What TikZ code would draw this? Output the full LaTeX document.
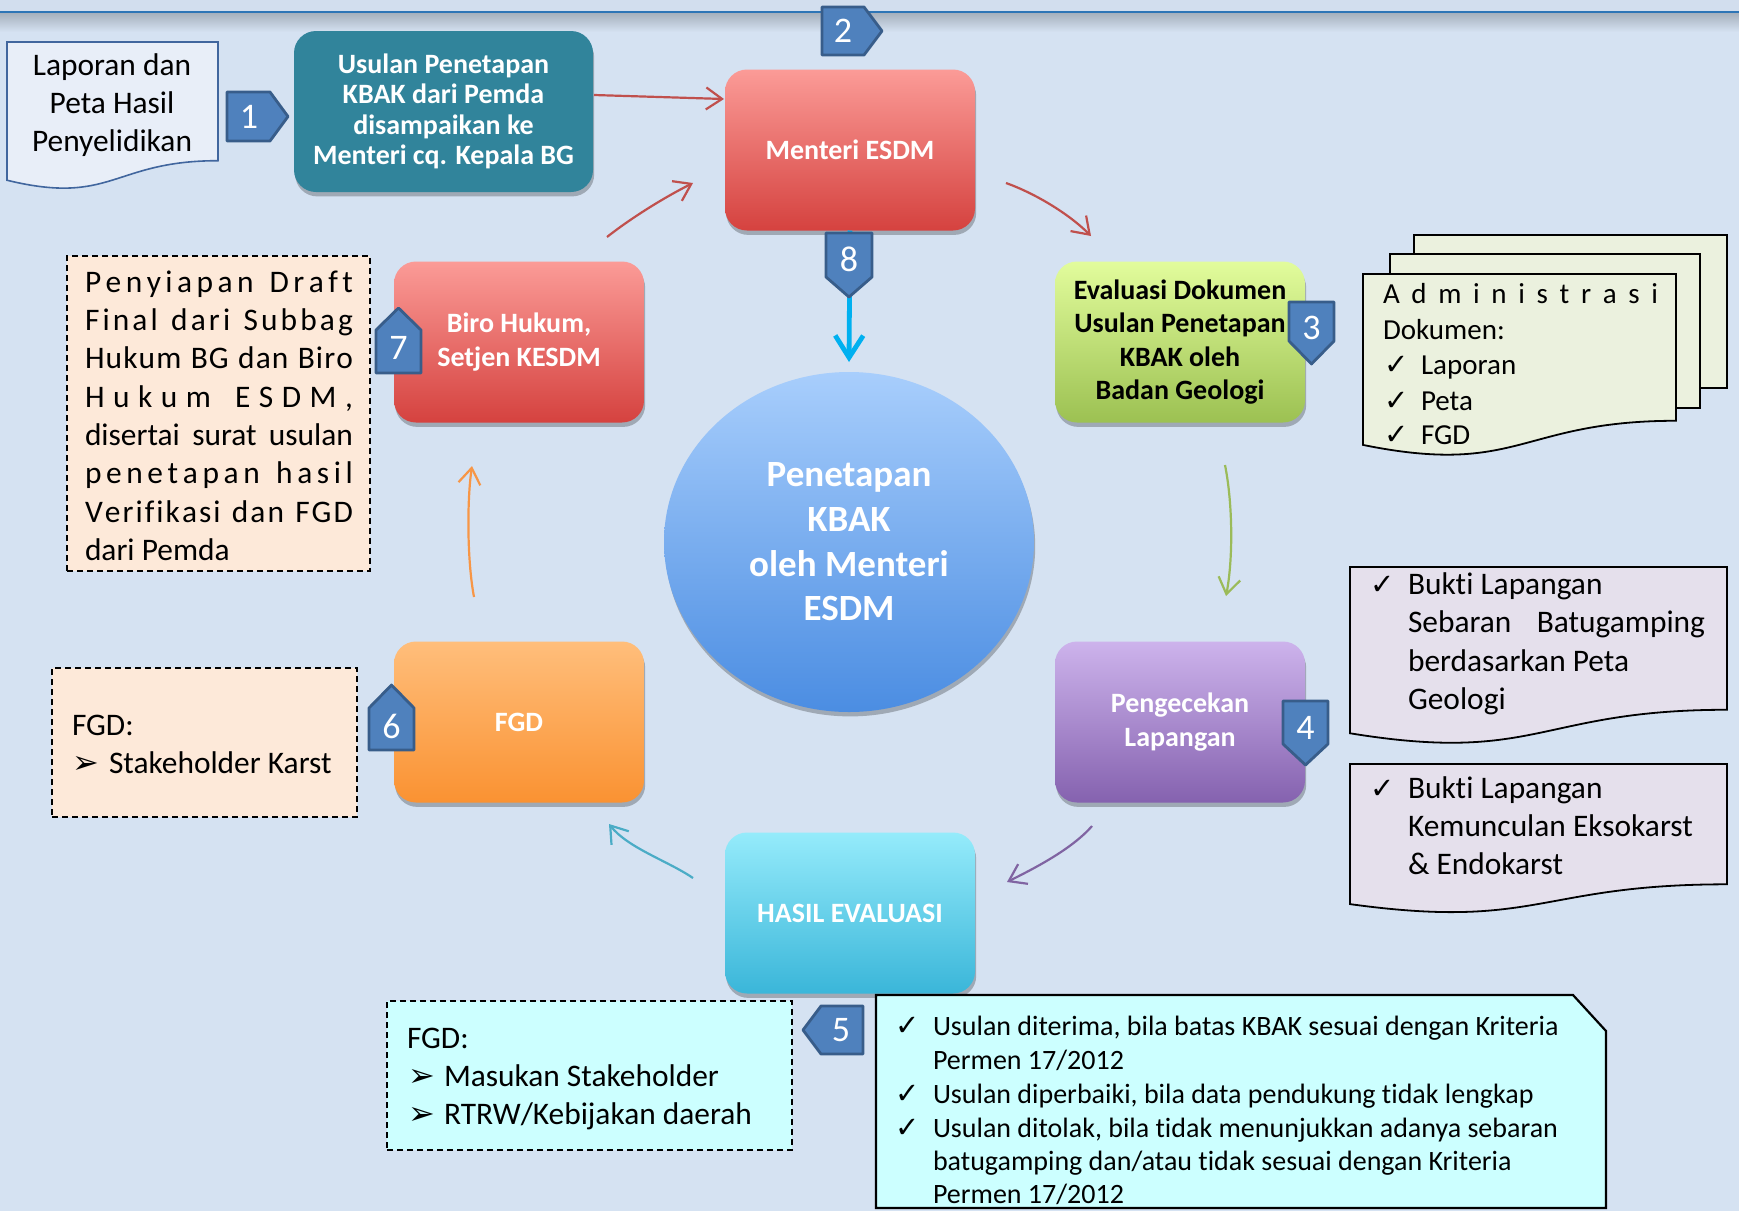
\documentclass[tikz,border=0pt]{standalone}
\usepackage{fontspec}
\setmainfont{Carlito}[Ligatures=NoCommon]
\newfontfamily\djv{DejaVu Sans}
\usetikzlibrary{arrows.meta,shadows,shapes.geometric}
\definecolor{bgc}{HTML}{D5E2F2}
\definecolor{stripc}{HTML}{D2DEEE}
\definecolor{linec}{HTML}{2E75B6}
\definecolor{tealc}{HTML}{31849B}
\definecolor{redtop}{HTML}{FB9B97}
\definecolor{redbot}{HTML}{D5423F}
\definecolor{greentop}{HTML}{E2FC9C}
\definecolor{greenbot}{HTML}{9CC152}
\definecolor{purtop}{HTML}{CDB3EC}
\definecolor{purbot}{HTML}{8562AF}
\definecolor{cyantop}{HTML}{95EBFB}
\definecolor{cyanbot}{HTML}{3AB6D9}
\definecolor{ortop}{HTML}{FFBE7B}
\definecolor{orbot}{HTML}{FA9232}
\definecolor{circtop}{HTML}{A8CEFC}
\definecolor{circbot}{HTML}{4B8DE2}
\definecolor{badgefill}{HTML}{4F81BD}
\definecolor{badgeline}{HTML}{385D8A}
\definecolor{docblue}{HTML}{E8EEF8}
\definecolor{docblueline}{HTML}{41669E}
\definecolor{docgreen}{HTML}{EBF1DE}
\definecolor{doclav}{HTML}{E5E0EC}
\definecolor{peach}{HTML}{FDE9D9}
\definecolor{lcyan}{HTML}{CCFFFF}
\definecolor{redc}{HTML}{C0504D}
\definecolor{greenc}{HTML}{9BBB59}
\definecolor{purc}{HTML}{8064A2}
\definecolor{cyanc}{HTML}{4BACC6}
\definecolor{orc}{HTML}{F79646}
\definecolor{bluec}{HTML}{00B0F0}
\def\spreadA#1#2{#1\ifx\relax#2\else\hfil\expandafter\spreadA\expandafter#2\fi}
\newcommand\spreadit[2]{\makebox[#1][s]{\spreadA#2\relax}}
\newcommand\docpath[4]{(#1,#2) -- (#3,#2) -- ({#3},{#2+0.802*#4}) .. controls ({(#1+#3)/2},{#2+0.802*#4}) and ({(#1+#3)/2},{#2+1.1075*#4}) .. ({#1},{#2+0.934*#4}) -- cycle}
\newcommand\fA{\fontsize{15.7}{18.9}\selectfont}
\newcommand\fB{\fontsize{14}{16.8}\selectfont}
\newcommand\fC{\fontsize{14.5}{17.6}\selectfont}
\newcommand\ck{{\djv\fontsize{14.5}{16}\selectfont ✓}}
\newcommand\ar{{\djv\fontsize{16}{18}\selectfont ➢}}
\begin{document}
\begin{tikzpicture}[x=0.5pt,y=-0.5pt,
  every node/.style={inner sep=0pt, outer sep=0pt},
  shad/.style={drop shadow={shadow xshift=0.6pt, shadow yshift=-2.2pt, opacity=0.25, fill=black}},
  box/.style={rounded corners=11pt, minimum width=125pt, minimum height=80.5pt, align=center,
    font=\fontsize{14}{16.6}\selectfont\bfseries, text=white, shad},
  badge/.style={fill=badgefill, draw=badgeline, line width=1.4pt, line join=round},
  num/.style={text=white, font=\fontsize{18}{20}\selectfont},
  arr/.style={line width=1.1pt, -{Straight Barb[length=8pt,width=11pt]}},
  dashbox/.style={draw=black, line width=0.9pt, dash pattern=on 3pt off 2pt},
  tx/.style={anchor=base west, font=\fA},
  txb/.style={anchor=base west, font=\fB},
  txc/.style={anchor=base west, font=\fC},
]
\useasboundingbox (0,0) rectangle (1739,1211);
% background
\fill[bgc] (0,0) rectangle (1739,1211);
\fill[stripc] (0,0) rectangle (1739,11);
\shade[top color=black!22!bgc, bottom color=bgc] (0,13) rectangle (1739,32);
\draw[linec, line width=1.4pt] (0,12) -- (1739,12);

% connectors (coordinates)
\coordinate (a1s) at (594,95);   \coordinate (a1e) at (724,99);
\coordinate (a2s) at (1006,183); \coordinate (a2e) at (1091,236);
\coordinate (a3s) at (1225,465); \coordinate (a3e) at (1226,596);
\coordinate (a4s) at (1092,826); \coordinate (a4e) at (1007,882);
\coordinate (a5s) at (693,878);  \coordinate (a5e) at (609,824);
\coordinate (a6s) at (474,597);  \coordinate (a6e) at (472,466);
\coordinate (a7s) at (607,237);  \coordinate (a7e) at (693,183);
\coordinate (a8e) at (849,362);

% document 1
\draw[fill=docblue, draw=docblueline, line width=0.8pt] \docpath{7}{42}{218}{148};
\node[anchor=base, font=\fA] (d1a) at (112,75) {Laporan dan};
\node[anchor=base, font=\fA] (d1b) at (112,113) {Peta Hasil};
\node[anchor=base, font=\fA] (d1c) at (112,151) {Penyelidikan};

% boxes
\node[box, fill=tealc, minimum width=149.5pt, font=\fontsize{14}{15.2}\selectfont\bfseries] (teal) at (443.5,111.5)
  {Usulan Penetapan\\KBAK dari Pemda\\disampaikan ke\\Menteri cq. Kepala BG};

% arrows
\draw[arr, redc] (a1s) -- (a1e);
\draw[arr, redc] (a2s) .. controls (1034,193) and (1068,213) .. (a2e);
\draw[arr, greenc] (a3s) .. controls (1233,505) and (1233,560) .. (a3e);
\draw[arr, purc] (a4s) .. controls (1072,849) and (1035,868) .. (a4e);
\draw[arr, cyanc] (a5s) .. controls (668,861) and (628,848) .. (a5e);
\draw[arr, orc] (a6s) .. controls (467,560) and (467,500) .. (a6e);
\draw[arr, redc] (a7s) .. controls (631,218) and (665,197) .. (a7e);

\node[box, top color=redtop, bottom color=redbot] (menteri) at (850,150) {Menteri ESDM};
\draw[bluec, line width=2.4pt, -{Straight Barb[length=11pt,width=14pt]}] (menteri.south) -- (a8e);
\node[box, top color=greentop, bottom color=greenbot, text=black] (eval) at (1180,342)
  {Evaluasi Dokumen\\Usulan Penetapan\\KBAK oleh\\Badan Geologi};
\node[box, top color=purtop, bottom color=purbot] (cek) at (1180,722) {Pengecekan\\Lapangan};
\node[box, top color=cyantop, bottom color=cyanbot] (hasil) at (850,913) {HASIL EVALUASI};
\node[box, top color=ortop, bottom color=orbot] (fgd) at (519,722) {FGD};
\node[box, top color=redtop, bottom color=redbot] (biro) at (519,342) {Biro Hukum,\\Setjen KESDM};

% circle
\node[ellipse, minimum width=185pt, minimum height=170pt, top color=circtop, bottom color=circbot,
  shad, align=center, font=\fontsize{18.5}{22.35}\selectfont\bfseries, text=white] (circ) at (849,542)
  {Penetapan\\KBAK\\oleh Menteri\\ESDM};

% multi document
\draw[fill=docgreen, draw=black, line width=0.9pt] (1414,235) rectangle (1727,388);
\draw[fill=docgreen, draw=black, line width=0.9pt] (1390,254) rectangle (1700,408);
\draw[fill=docgreen, draw=black, line width=0.9pt] \docpath{1363}{274}{1676}{183};
\node[txc] (m1) at (1383,303.5) {\spreadit{137.5pt}{Administrasi}};
\node[txc] (m2) at (1383,339) {Dokumen:};
\node[txc] (m3c) at (1384,374.5) {\ck}; \node[txc] (m3) at (1421,374.5) {Laporan};
\node[txc] (m4c) at (1384,410) {\ck};   \node[txc] (m4) at (1421,410) {Peta};
\node[txc] (m5c) at (1384,444) {\ck};   \node[txc] (m5) at (1421,444) {FGD};

% right docs
\draw[fill=doclav, draw=black, line width=0.9pt] \docpath{1350}{567}{1727}{178};
\node[tx] (r1c) at (1370,594.5) {\ck}; \node[tx] (r1) at (1408,594.5) {Bukti Lapangan};
\node[tx] (r2) at (1408,632) {\makebox[148.5pt][s]{Sebaran Batugamping}};
\node[tx] (r3) at (1408,671) {berdasarkan Peta};
\node[tx] (r4) at (1408,709) {Geologi};
\draw[fill=doclav, draw=black, line width=0.9pt] \docpath{1350}{764}{1727}{150};
\node[tx] (s1c) at (1370,798.5) {\ck}; \node[tx] (s1) at (1408,798.5) {Bukti Lapangan};
\node[tx] (s2) at (1408,836) {Kemunculan Eksokarst};
\node[tx] (s3) at (1408,874) {\& Endokarst};

% Penyiapan box
\node[dashbox, fill=peach, minimum width=151.5pt, minimum height=157.5pt] (pbox) at (218.5,413.5) {};
\node[tx] (p1) at (85,292) {\spreadit{134pt}{Penyiapan~Draft}};
\node[tx] (p2) at (85,330.5) {\spreadit{134pt}{Final~dari~Subbag}};
\node[tx] (p3) at (85,368.5) {\spreadit{134pt}{Hukum~BG~dan~Biro}};
\node[tx] (p4) at (85,407) {\spreadit{134pt}{Hukum~ESDM,}};
\node[tx] (p5) at (85,445) {\makebox[134pt][s]{disertai surat usulan}};
\node[tx] (p6) at (85,483.5) {\spreadit{134pt}{penetapan~hasil}};
\node[tx] (p7) at (85,522) {\spreadit{134pt}{Verifikasi~dan~FGD}};
\node[tx] (p8) at (85,560) {dari Pemda};

% FGD stakeholder box
\node[dashbox, fill=peach, minimum width=152.5pt, minimum height=74.5pt] (fbox) at (204.5,742.5) {};
\node[tx] (f1) at (72,735) {FGD:};
\node[tx] (f2c) at (72,773) {\ar}; \node[tx] (f2) at (109,773) {Stakeholder Karst};

% FGD masukan box
\node[dashbox, fill=lcyan, minimum width=202.5pt, minimum height=74.5pt] (gbox) at (589.5,1075.5) {};
\node[tx] (g1) at (407,1048) {FGD:};
\node[tx] (g2c) at (408,1086) {\ar}; \node[tx] (g2) at (444,1086) {Masukan Stakeholder};
\node[tx] (g3c) at (408,1124.5) {\ar}; \node[tx] (g3) at (444,1124.5) {RTRW/Kebijakan daerah};

% big box
\draw[fill=lcyan, draw=black, line width=1.1pt] (876,995) -- (1573,995) -- (1606,1031) -- (1606,1208) -- (876,1208) -- cycle;
\node[txb] (k1c) at (895,1035) {\ck}; \node[txb] (k1) at (933,1035) {Usulan diterima, bila batas KBAK sesuai dengan Kriteria};
\node[txb] (k2) at (933,1069) {Permen 17/2012};
\node[txb] (k3c) at (895,1103.5) {\ck}; \node[txb] (k3) at (933,1103.5) {Usulan diperbaiki, bila data pendukung tidak lengkap};
\node[txb] (k4c) at (895,1137) {\ck}; \node[txb] (k4) at (933,1137) {Usulan ditolak, bila tidak menunjukkan adanya sebaran};
\node[txb] (k5) at (933,1170) {batugamping dan/atau tidak sesuai dengan Kriteria};
\node[txb] (k6) at (933,1203.5) {Permen 17/2012};

% badges
\draw[badge] (227,92) -- (270,92) -- (288,116.5) -- (270,141) -- (227,141) -- cycle;
\node[num] (b1) at (249,117) {1};
\draw[badge] (822,7) -- (864,7) -- (882,31) -- (864,55) -- (822,55) -- cycle;
\node[num] (b2) at (843,31) {2};
\draw[badge] (826,233) -- (872,233) -- (872,277) -- (849,297) -- (826,277) -- cycle;
\node[num] (b8) at (849,259) {8};
\draw[badge] (1289,302) -- (1334,302) -- (1334,341) -- (1311.5,364) -- (1289,341) -- cycle;
\node[num] (b3) at (1311.5,328) {3};
\draw[badge] (1283,701) -- (1328,701) -- (1328,744) -- (1305.5,765) -- (1283,744) -- cycle;
\node[num] (b4) at (1305.5,728) {4};
\draw[badge] (863,1006) -- (821,1006) -- (803,1030) -- (821,1054) -- (863,1054) -- cycle;
\node[num] (b5) at (841,1030) {5};
\draw[badge] (369,750) -- (369,708) -- (391.5,685) -- (414,708) -- (414,750) -- cycle;
\node[num] (b6) at (391.5,726) {6};
\draw[badge] (376,373) -- (376,330) -- (398.5,308) -- (421,330) -- (421,373) -- cycle;
\node[num] (b7) at (398.5,348) {7};
\end{tikzpicture}
\end{document}
